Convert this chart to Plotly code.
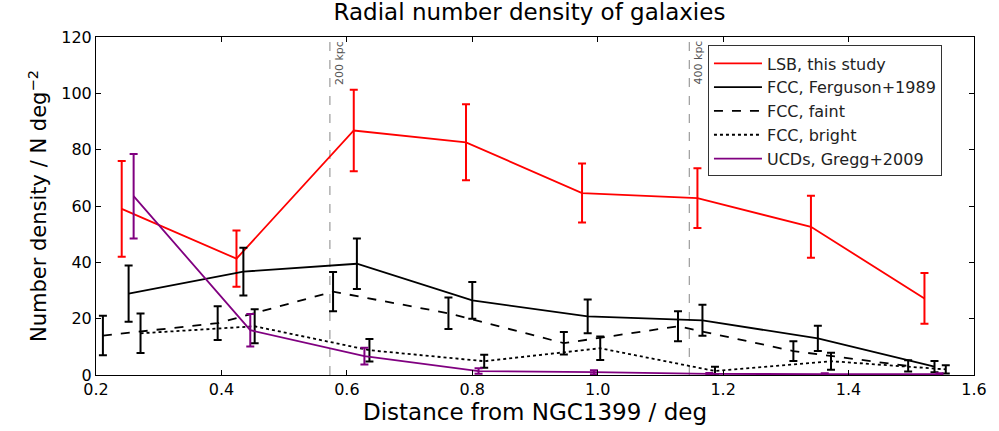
import plotly.graph_objects as go

# Radial bins (deg from NGC1399), number densities (N deg^-2) and 1-sigma errors
lsb_x = [0.241, 0.424, 0.611, 0.790, 0.975, 1.159, 1.340, 1.521]
lsb_y = [59.0, 41.3, 86.8, 82.6, 64.6, 62.8, 52.6, 27.2]
lsb_err = [17.0, 10.0, 14.5, 13.5, 10.5, 10.6, 11.0, 9.0]

fcc_x = [0.252, 0.435, 0.616, 0.800, 0.984, 1.167, 1.351, 1.537]
fcc_y = [28.9, 36.7, 39.5, 26.5, 20.8, 19.4, 13.0, 3.0]
fcc_err = [10.0, 8.5, 9.0, 6.5, 6.0, 5.5, 4.5, 2.0]

faint_x = [0.211, 0.394, 0.578, 0.762, 0.946, 1.128, 1.312, 1.495]
faint_y = [14.0, 18.4, 29.6, 21.9, 11.3, 17.3, 8.5, 3.2]
faint_err = [7.0, 6.0, 7.0, 5.6, 4.0, 5.3, 3.5, 2.0]

bright_x = [0.271, 0.453, 0.636, 0.819, 1.004, 1.187, 1.372, 1.555]
bright_y = [14.8, 17.3, 8.8, 4.9, 9.5, 1.4, 4.9, 2.0]
bright_err = [7.0, 6.0, 4.0, 2.3, 4.2, 1.5, 3.0, 1.5]

ucd_x = [0.260, 0.446, 0.628, 0.810, 0.994, 1.178, 1.362, 1.545]
ucd_y = [63.5, 15.9, 6.7, 1.4, 1.0, 0.4, 0.3, 0.3]
ucd_err = [15.0, 5.8, 3.0, 1.0, 0.7, 0.3, 0.3, 0.3]

# Physical scale markers (deg) and their labels
scale_x = [0.573, 1.146]
scale_labels = ["200 kpc", "400 kpc"]

x_ticks = [0.2, 0.4, 0.6, 0.8, 1.0, 1.2, 1.4, 1.6]
y_ticks = [0, 20, 40, 60, 80, 100, 120]

FONT = "DejaVu Sans"

series = [
    ("LSB, this study", lsb_x, lsb_y, lsb_err, "#ff0000", "solid"),
    ("FCC, Ferguson+1989", fcc_x, fcc_y, fcc_err, "#000000", "solid"),
    ("FCC, faint", faint_x, faint_y, faint_err, "#000000", "dash"),
    ("FCC, bright", bright_x, bright_y, bright_err, "#000000", "dot"),
    ("UCDs, Gregg+2009", ucd_x, ucd_y, ucd_err, "#800080", "solid"),
]

fig = go.Figure()
for i, (name, xs, ys, es, col, dash) in enumerate(series):
    fig.add_trace(go.Scatter(
        x=xs, y=ys, name=name, mode="lines", legendgroup=f"g{i}",
        line=dict(color=col, width=1.8, dash=dash),
        error_y=dict(type="data", array=es, visible=True,
                     color=col, thickness=2, width=4),
    ))

for sx, lab in zip(scale_x, scale_labels):
    fig.add_shape(type="line", xref="x", yref="paper", x0=sx, x1=sx, y0=0, y1=1,
                  line=dict(color="#888888", width=1, dash="dash"), layer="below")
    fig.add_annotation(x=sx, y=0.995, xref="x", yref="paper", text=lab,
                       textangle=-90, showarrow=False, xanchor="left", yanchor="top",
                       xshift=1, font=dict(family=FONT, size=11, color="#555555"))

fig.update_layout(
    width=999, height=431,
    margin=dict(l=96, r=14, t=37, b=54),
    paper_bgcolor="white", plot_bgcolor="white",
    font=dict(family=FONT, size=16, color="black"),
    title=dict(text="Radial number density of galaxies", x=0.53, xanchor="center",
               y=0.992, yanchor="top", font=dict(family=FONT, size=23)),
    showlegend=True,
    legend=dict(x=0.697, y=0.975, xanchor="left", yanchor="top",
                bgcolor="white", bordercolor="#333333", borderwidth=1,
                font=dict(family=FONT, size=16, color="#222222"),
                itemwidth=48, tracegroupgap=0),
)

fig.update_xaxes(
    range=[0.2, 1.6], tickvals=x_ticks, ticktext=[f"{v:.1f}" for v in x_ticks],
    showgrid=False, zeroline=False, showline=True, linecolor="black", linewidth=1,
    mirror="allticks", ticks="inside", ticklen=5, tickcolor="black",
    tickfont=dict(family=FONT, size=16),
    title=dict(text="Distance from NGC1399 / deg", font=dict(family=FONT, size=23),
               standoff=4),
)
fig.update_yaxes(
    range=[0, 120], tickvals=y_ticks,
    showgrid=False, zeroline=False, showline=True, linecolor="black", linewidth=1,
    mirror="allticks", ticks="inside", ticklen=5, tickcolor="black",
    tickfont=dict(family=FONT, size=16),
    title=dict(text="Number density / N deg<sup>−2</sup>",
               font=dict(family=FONT, size=21), standoff=8),
)

fig.write_html("out.html")
